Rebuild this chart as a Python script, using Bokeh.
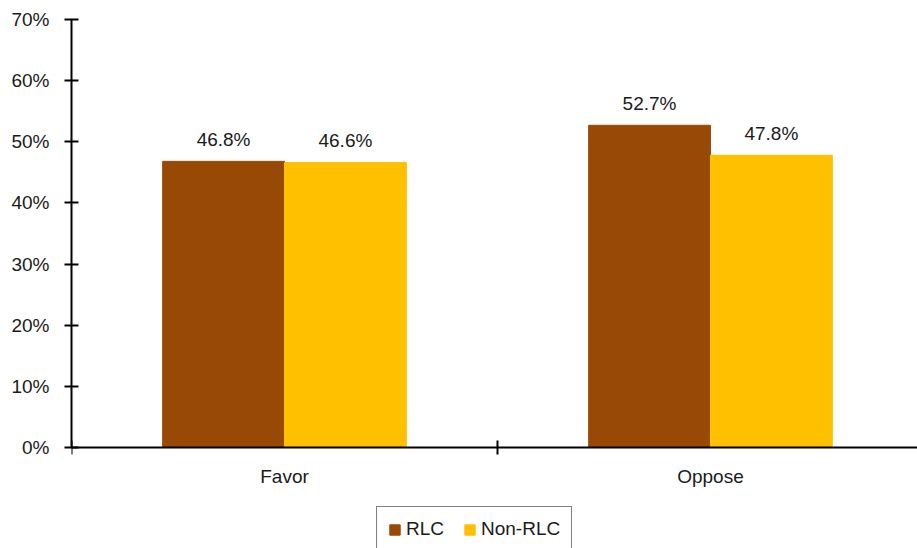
from bokeh.plotting import figure
from bokeh.models import (Range1d, FixedTicker, LinearAxis, NumeralTickFormatter,
                          ColumnDataSource, Legend, LegendItem)
from bokeh.transform import dodge
from bokeh.core.properties import value
from bokeh.embed import file_html
from bokeh.resources import INLINE
import numpy as np

categories = ["Favor", "Oppose"]
series_names = ["RLC", "Non-RLC"]
rlc = [0.468, 0.527]
non_rlc = [0.466, 0.478]
y_ticks = [0, 0.1, 0.2, 0.3, 0.4, 0.5, 0.6, 0.7]
colors = ["#994906", "#FFC000"]

FONT = "Liberation Sans"
FS = "19px"

pos = np.arange(len(categories)) + 0.5
src = ColumnDataSource(dict(
    x=pos, rlc=rlc, non=non_rlc,
    rlc_lab=[f"{v*100:.1f}%" for v in rlc],
    non_lab=[f"{v*100:.1f}%" for v in non_rlc],
))

# frame spans 19..548 px; value axis 0..0.7 occupies 19..447 px
p = figure(width=917, height=548, output_backend="svg", toolbar_location=None,
           x_range=Range1d(0, 1.986), y_range=Range1d(-0.1652, 0.70),
           x_axis_location=None, y_axis_location=None,
           min_border_left=71, min_border_top=19, min_border_right=0, min_border_bottom=0)
p.outline_line_color = None
p.xgrid.visible = False
p.ygrid.visible = False
p.background_fill_color = "white"
p.border_fill_color = "white"

bw = 0.286
r1 = p.vbar(x=dodge("x", -bw / 2), top="rlc", bottom=0, width=bw, source=src,
            fill_color=colors[0], line_color=colors[0])
r2 = p.vbar(x=dodge("x", bw / 2), top="non", bottom=0, width=bw, source=src,
            fill_color=colors[1], line_color=colors[1])

for xf, yf, lab in [(-bw / 2, "rlc", "rlc_lab"), (bw / 2, "non", "non_lab")]:
    p.text(x=dodge("x", xf), y=yf, text=lab, source=src, text_align="center",
           text_baseline="alphabetic", y_offset=-22, text_font=value(FONT),
           text_font_size=FS, text_color="#1a1a1a")

yax = LinearAxis(ticker=FixedTicker(ticks=y_ticks, minor_ticks=[]),
                 formatter=NumeralTickFormatter(format="0%"), bounds=(0, 0.7))
yax.axis_line_width = 2
yax.axis_line_color = "black"
yax.major_tick_in = 7
yax.major_tick_out = 7
yax.major_tick_line_width = 2
yax.major_label_standoff = 15
yax.major_label_text_font = FONT
yax.major_label_text_font_size = FS
yax.major_label_text_color = "#1a1a1a"
p.add_layout(yax, "left")

xax = LinearAxis(ticker=FixedTicker(ticks=list(pos), minor_ticks=[0, 1, 2]),
                 major_label_overrides={float(v): c for v, c in zip(pos, categories)},
                 fixed_location=0)
xax.axis_line_width = 2
xax.axis_line_color = "black"
xax.major_tick_line_color = None
xax.major_tick_in = 0
xax.major_tick_out = 7
xax.minor_tick_in = 7
xax.minor_tick_out = 7
xax.minor_tick_line_width = 2
xax.minor_tick_line_color = "black"
xax.major_label_standoff = 12
xax.major_label_text_font = FONT
xax.major_label_text_font_size = FS
xax.major_label_text_color = "#1a1a1a"
p.add_layout(xax, "below")

legend = Legend(items=[LegendItem(label=series_names[0], renderers=[r1]),
                       LegendItem(label=series_names[1], renderers=[r2])],
                orientation="horizontal", location=(305, -4))
legend.label_text_font = FONT
legend.label_text_font_size = FS
legend.label_text_color = "#1a1a1a"
legend.glyph_width = 13
legend.glyph_height = 13
legend.label_standoff = 5
legend.spacing = 19
legend.padding = 11
legend.border_line_color = "black"
legend.border_line_width = 1.5
legend.margin = 0
p.add_layout(legend, "center")

open("out.html", "w").write(file_html(p, INLINE))
